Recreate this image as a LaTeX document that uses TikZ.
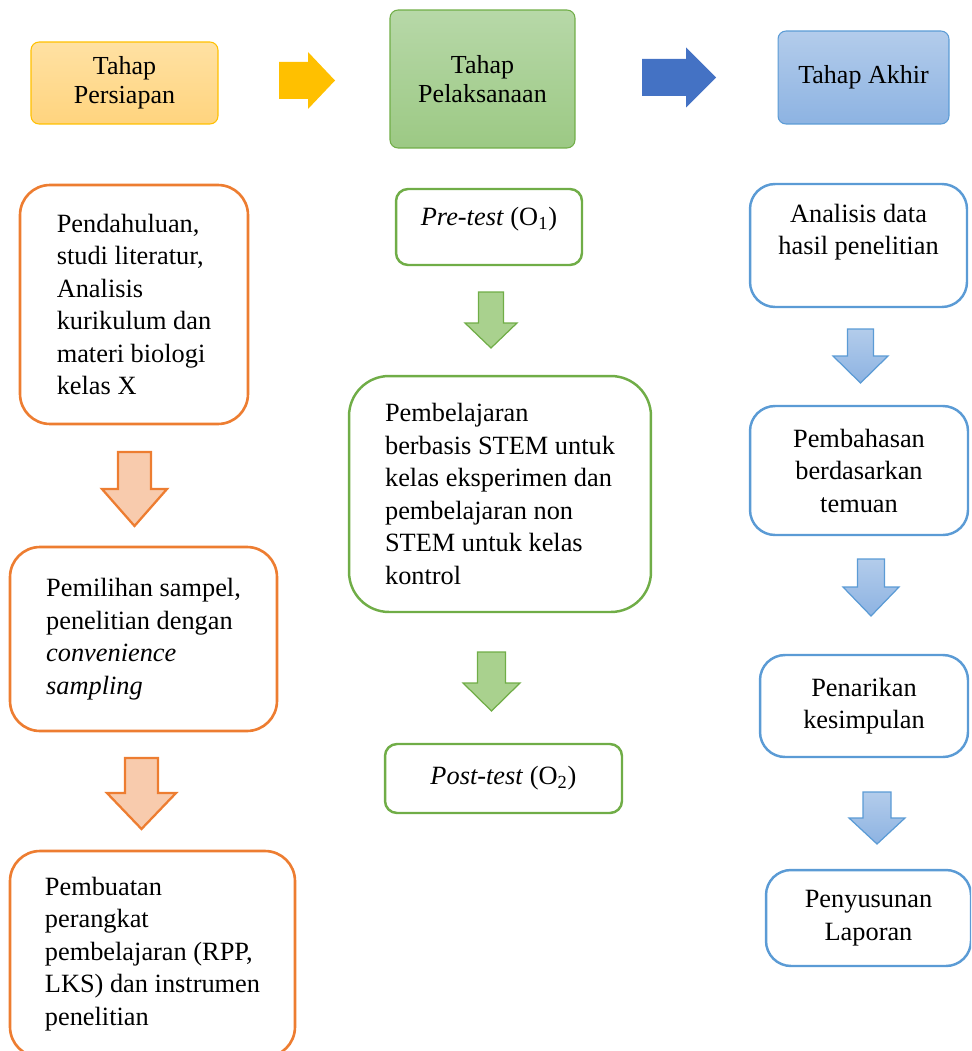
\documentclass[tikz,border=0pt]{standalone}
\usepackage{fontspec}
\setmainfont{Liberation Serif}
\usepackage{xcolor}

\definecolor{prepline}{HTML}{ED7D31}
\definecolor{prepfill}{HTML}{F8CBAD}
\definecolor{prepA}{HTML}{FFE1A3}
\definecolor{prepB}{HTML}{FFD47E}
\definecolor{prepedge}{HTML}{FFC000}
\definecolor{execline}{HTML}{70AD47}
\definecolor{execfill}{HTML}{A9D18E}
\definecolor{execA}{HTML}{B7D8A8}
\definecolor{execB}{HTML}{9CC984}
\definecolor{endline}{HTML}{5B9BD5}
\definecolor{endA}{HTML}{B3CCEB}
\definecolor{endB}{HTML}{8DB3E2}
\definecolor{endarrow}{HTML}{4472C4}

\newcommand{\bodyfont}{\fontsize{15}{18.5}\selectfont}
\newcommand{\headfont}{\fontsize{14.8}{16.5}\selectfont}

% block arrow pointing down: style, x, top, head start, tip, half shaft, half head
\newcommand{\downblock}[7]{%
  \draw[#1] ({#2-#6},#3) -- ({#2+#6},#3) -- ({#2+#6},#4) -- ({#2+#7},#4)
    -- (#2,#5) -- ({#2-#7},#4) -- ({#2-#6},#4) -- cycle;}
% block arrow pointing right: style, y, left, head start, tip, half shaft, half head
\newcommand{\rightblock}[7]{%
  \fill[#1] (#3,{#2-#6}) -- (#4,{#2-#6}) -- (#4,{#2-#7}) -- (#5,#2)
    -- (#4,{#2+#7}) -- (#4,{#2+#6}) -- (#3,{#2+#6}) -- cycle;}

\tikzset{
  phase/.style={rounded corners=0.16cm, line width=0.6pt, align=center,
    font=\headfont, inner sep=0pt},
  prepbox/.style={draw=prepline, line width=1.5pt, rounded corners=0.6cm,
    align=left, font=\bodyfont, inner sep=0pt},
  execbox/.style={draw=execline, line width=1.4pt, rounded corners=0.24cm,
    align=center, font=\bodyfont, inner sep=0pt},
  endbox/.style={draw=endline, line width=1.4pt, rounded corners=0.5cm,
    align=center, font=\bodyfont, inner sep=0pt},
  preparrow/.style={fill=prepfill, draw=prepline, line width=1.3pt, line join=miter},
  execarrow/.style={fill=execfill, draw=execline, line width=0.7pt},
  endarrowst/.style={top color=endA, bottom color=endB, draw=endline, line width=0.7pt}
}

\begin{document}
\begin{tikzpicture}[x=0.02cm, y=-0.02cm]
  \useasboundingbox (0,0) rectangle (971,1051);
  \clip (0,0) rectangle (971,1051);

  % phase headers
  \node[phase, draw=prepedge, top color=prepA, bottom color=prepB,
    minimum width=3.74cm, minimum height=1.64cm] (persiapan) at (124.5,83)
    {Tahap\\Persiapan};
  \node[phase, draw=execline, top color=execA, bottom color=execB,
    minimum width=3.70cm, minimum height=2.76cm] (pelaksanaan) at (482.5,79)
    {Tahap\\Pelaksanaan};
  \node[phase, draw=endline, top color=endA, bottom color=endB,
    minimum width=3.42cm, minimum height=1.86cm] (akhir) at (863.5,77.5)
    {Tahap Akhir};
  \rightblock{prepedge}{80.5}{279}{308}{335}{18.5}{28.5}
  \rightblock{endarrow}{77.5}{642}{686}{716}{18.5}{30}

  % persiapan
  \node[prepbox, minimum width=4.56cm, minimum height=4.78cm] (studi) at (134,304.5)
    {Pendahuluan,\\studi literatur,\\Analisis\\kurikulum dan\\materi biologi\\kelas X};
  \node[prepbox, minimum width=5.34cm, minimum height=3.68cm] (sampel) at (143.5,639)
    {Pemilihan sampel,\\penelitian dengan\\\textit{convenience}\\\textit{sampling}};
  \node[prepbox, minimum width=5.70cm, minimum height=4.12cm] (perangkat) at (152.5,954)
    {Pembuatan\\perangkat\\pembelajaran (RPP,\\LKS) dan instrumen\\penelitian};
  \downblock{preparrow}{134.5}{452}{489}{526}{16.5}{32.5}
  \downblock{preparrow}{141.5}{758}{793}{829}{16.5}{34.5}

  % pelaksanaan
  \node[execbox, minimum width=3.72cm, minimum height=1.52cm] (pretest) at (489,227) {};
  \node[font=\bodyfont, inner sep=0pt] (pretesttext) at (489,219)
    {\textit{Pre-test} (O\textsubscript{1})};
  \node[execbox, rounded corners=0.8cm, align=left,
    minimum width=6.04cm, minimum height=4.72cm] (stem) at (500,494)
    {Pembelajaran\\berbasis STEM untuk\\kelas eksperimen dan\\pembelajaran non\\STEM untuk kelas\\kontrol};
  \node[execbox, minimum width=4.74cm, minimum height=1.38cm] (posttest) at (503.5,778.5)
    {\textit{Post-test} (O\textsubscript{2})};
  \downblock{execarrow}{491}{292}{323}{348}{12.5}{26}
  \downblock{execarrow}{491.5}{652}{683}{711}{14}{28.5}

  % akhir
  \node[endbox, minimum width=4.34cm, minimum height=2.46cm] (analisis) at (858.5,245.5) {};
  \node[font=\bodyfont, align=center, inner sep=0pt] (analisistext) at (858.5,232)
    {Analisis data\\hasil penelitian};
  \node[endbox, minimum width=4.36cm, minimum height=2.58cm] (pembahasan) at (859,470.5)
    {Pembahasan\\berdasarkan\\temuan};
  \node[endbox, minimum width=4.16cm, minimum height=2.04cm] (penarikan) at (864,706)
    {Penarikan\\kesimpulan};
  \node[endbox, minimum width=4.10cm, minimum height=1.92cm] (laporan) at (868.5,918)
    {Penyusunan\\Laporan};
  \downblock{endarrowst}{860.5}{329}{356}{383}{13}{27.5}
  \downblock{endarrowst}{871}{559}{587}{616}{13.5}{28}
  \downblock{endarrowst}{877}{792}{818}{844}{14}{28}
\end{tikzpicture}
\end{document}
